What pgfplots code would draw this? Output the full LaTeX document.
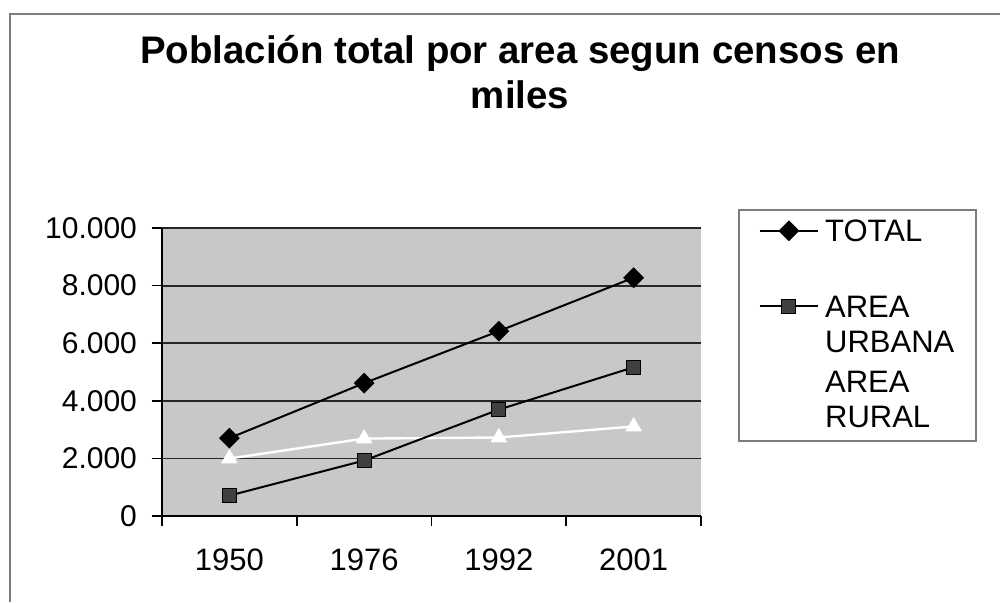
\documentclass[border=0pt]{standalone}
\usepackage{pgfplots}
\pgfplotsset{compat=1.18}
\usepackage{fontspec}
\setmainfont{Liberation Sans}
\definecolor{plotbg}{RGB}{200,200,200}
\definecolor{framec}{RGB}{125,125,125}
\definecolor{urb}{RGB}{64,64,64}
\begin{document}
\begin{tikzpicture}
\useasboundingbox (0,0) rectangle (500pt,301pt);
\draw[framec, line width=0.9pt] (5pt,0pt) -- (5pt,294pt) -- (500pt,294pt);
\node[font=\bfseries\fontsize{19.2}{22}\selectfont, anchor=base, inner sep=0pt] at (260pt,269.5pt) {Población total por area segun censos en};
\node[font=\bfseries\fontsize{19.2}{22}\selectfont, anchor=base, inner sep=0pt] at (260pt,247pt) {miles};
\begin{axis}[
  at={(81pt,43pt)}, anchor=south west,
  width=269.5pt, height=144pt, scale only axis,
  xmin=-0.5, xmax=3.5, ymin=0, ymax=10000,
  axis lines*=left,
  axis line style={black, line width=1pt},
  axis background/.style={fill=plotbg},
  /pgf/number format/assume math mode=true,
  tick label style={font=\fontsize{15}{17}\selectfont},
  ytick={0,2000,...,10000},
  scaled y ticks=false,
  yticklabel style={/pgf/number format/1000 sep={.}, xshift=-4pt},
  ymajorgrids,
  grid style={black!85, line width=0.9pt},
  tick align=outside,
  major tick length=5pt,
  ytick style={black, line width=0.8pt},
  xtick={0,1,2,3},
  xticklabels={1950,1976,1992,2001},
  xticklabel style={font=\fontsize{15.5}{17}\selectfont, yshift=-8pt},
  xtick style={draw=none},
  extra x ticks={-0.5,0.5,1.5,2.5,3.5},
  extra x tick labels={},
  extra x tick style={grid=none, xtick style={draw=black, line width=0.8pt}},
  clip=false,
  legend cell align=left,
  legend image code/.code={
    \path (0pt,5.5pt);
    \draw[mark repeat=2, mark phase=2, #1] plot coordinates {(4pt,5.5pt) (18.5pt,5.5pt) (33pt,5.5pt)};
  },
  legend style={
    at={(axis description cs:1.0686,1.066)}, anchor=north west,
    draw=framec, line width=0.8pt, fill=white,
    font=\fontsize{15.5}{17.5}\selectfont,
    inner xsep=6pt, inner ysep=3pt,
    row sep=3.75pt,
    /tikz/column sep=1pt,
    cells={anchor=base west},
    nodes={inner sep=2pt, text width=67.5pt, align=left, text height=11pt, text depth=19pt},
  },
]
\addplot[white, line width=1.2pt, mark=triangle*, mark size=3.6pt, mark options={fill=white, draw=white}, forget plot]
  coordinates {(0,1995.597) (1,2687.646) (2,2725.946) (3,3109.095)};
\addplot[black, line width=1pt, mark=square*, mark size=3.2pt, mark options={rotate=45, fill=black}]
  coordinates {(0,2704.165) (1,4613.486) (2,6420.792) (3,8274.325)};
\addlegendentry{TOTAL}
\addplot[black, line width=1pt, mark=square*, mark size=3.5pt, mark options={fill=urb, draw=black, line width=0.5pt}]
  coordinates {(0,708.568) (1,1925.840) (2,3694.846) (3,5165.230)};
\addlegendentry{AREA\\URBANA}
\addlegendimage{white, line width=1.2pt, mark=triangle*, mark size=3.6pt, mark options={fill=white, draw=white}}
\addlegendentry{AREA\\RURAL}
\end{axis}
\end{tikzpicture}
\end{document}
